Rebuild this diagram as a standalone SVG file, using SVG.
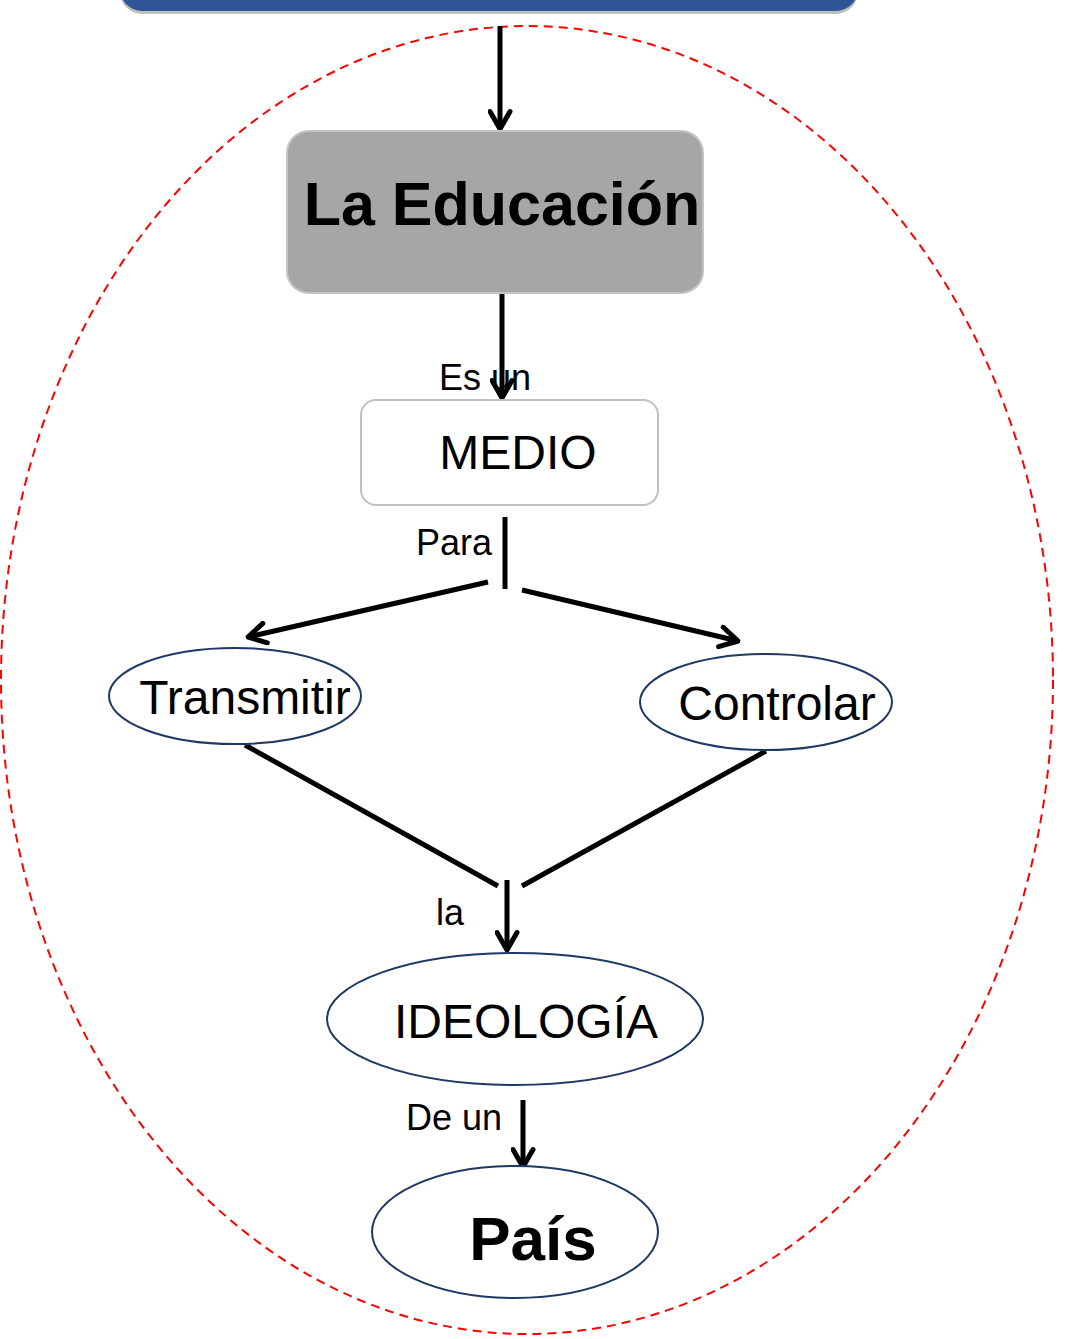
<svg xmlns="http://www.w3.org/2000/svg" width="1088" height="1339" viewBox="0 0 1088 1339">
<style>
.lbl{font-family:"Liberation Sans",Arial,sans-serif;font-size:36px;fill:#000}
.node{font-family:"Liberation Sans",Arial,sans-serif;fill:#000}
.ell{fill:#fff;stroke:#203864;stroke-width:2}
.con{stroke:#000;stroke-width:5;fill:none}
</style>
<defs>
<marker id="ah" viewBox="0 0 20 20" refX="18" refY="10" markerWidth="5" markerHeight="5" orient="auto" markerUnits="strokeWidth">
<path d="M4,2 L18,10 L4,18" fill="none" stroke="#000" stroke-width="4" stroke-linecap="round" stroke-linejoin="round"/>
</marker>
</defs>
<rect width="1088" height="1339" fill="#fff"/>
<g id="top-box">
<rect x="120" y="-40" width="738" height="54" rx="22" fill="#bfbfbf"/>
<rect x="120" y="-40" width="738" height="51" rx="22" fill="#2f5597"/>
</g>
<g id="boundary">
<ellipse cx="527" cy="680" rx="526" ry="654" fill="none" stroke="#f00" stroke-width="2" stroke-dasharray="9,6"/>
</g>
<g id="connectors">
<line class="con" x1="500" y1="26" x2="500" y2="129" marker-end="url(#ah)"/>
<line class="con" x1="502" y1="293" x2="502" y2="398" marker-end="url(#ah)"/>
<line class="con" x1="505" y1="517" x2="505" y2="589"/>
<line class="con" x1="488" y1="582" x2="248" y2="637" marker-end="url(#ah)"/>
<line class="con" x1="522" y1="590" x2="738" y2="641" marker-end="url(#ah)"/>
<line class="con" x1="245" y1="745" x2="498" y2="886"/>
<line class="con" x1="766" y1="751" x2="522" y2="886"/>
<line class="con" x1="507" y1="880" x2="507" y2="950" marker-end="url(#ah)"/>
<line class="con" x1="523" y1="1100" x2="523" y2="1167" marker-end="url(#ah)"/>
</g>
<g id="labels">
<text class="lbl" x="439" y="390">Es un</text>
<text class="lbl" x="416" y="555">Para</text>
<text class="lbl" x="436" y="925">la</text>
<text class="lbl" x="406" y="1130">De un</text>
</g>
<g id="educacion">
<rect x="287" y="131" width="416" height="162" rx="22" fill="#a6a6a6" stroke="#c4c4c4" stroke-width="2"/>
<text class="node" x="502" y="225" font-size="61" font-weight="bold" text-anchor="middle">La Educación</text>
</g>
<g id="medio">
<rect x="361" y="400" width="297" height="105" rx="15" fill="#fff" stroke="#c0c0c0" stroke-width="2"/>
<text class="node" x="518" y="469" font-size="48" text-anchor="middle">MEDIO</text>
</g>
<g id="transmitir">
<ellipse class="ell" cx="235" cy="696" rx="126" ry="48"/>
<text class="node" x="245" y="714" font-size="48" text-anchor="middle">Transmitir</text>
</g>
<g id="controlar">
<ellipse class="ell" cx="766" cy="702" rx="126" ry="48"/>
<text class="node" x="777" y="720" font-size="48" text-anchor="middle">Controlar</text>
</g>
<g id="ideologia">
<ellipse class="ell" cx="515" cy="1019" rx="188" ry="66"/>
<text class="node" x="526" y="1038" font-size="48" text-anchor="middle">IDEOLOGÍA</text>
</g>
<g id="pais">
<ellipse class="ell" cx="515" cy="1232" rx="143" ry="66"/>
<text class="node" x="533" y="1260" font-size="62" font-weight="bold" text-anchor="middle">País</text>
</g>
</svg>
